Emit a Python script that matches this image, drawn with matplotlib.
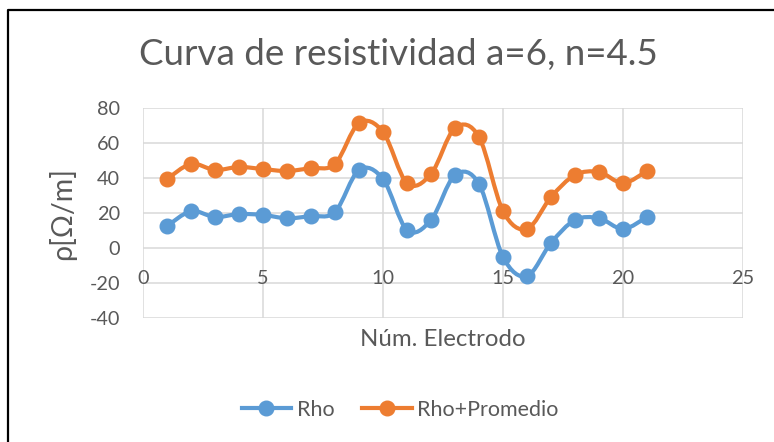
import numpy as np
import matplotlib
matplotlib.use("Agg")
import matplotlib.pyplot as plt
from matplotlib.path import Path
from matplotlib.patches import PathPatch
from matplotlib.lines import Line2D

plt.rcParams['font.family'] = ['Lato', 'DejaVu Sans']
plt.rcParams['axes.unicode_minus'] = False

# Electrode readings
electrodo = [1, 2, 3, 4, 5, 6, 7, 8, 9, 10, 11, 12, 13, 14, 15, 16, 17, 18, 19, 20, 21]
rho = [12.5, 21.0, 17.7, 19.4, 18.9, 17.0, 18.3, 20.6, 44.6, 39.4, 10.3,
       16.0, 41.7, 36.6, -5.1, -16.0, 2.9, 16.0, 17.0, 10.9, 17.7]
rho_prom = [39.4, 48.0, 44.6, 46.3, 45.1, 44.0, 45.7, 48.0, 71.4, 66.3, 37.1,
            42.3, 68.6, 63.4, 21.1, 10.9, 29.1, 41.7, 43.4, 37.1, 44.0]

x_ticks = [0, 5, 10, 15, 20, 25]
y_ticks = [-40, -20, 0, 20, 40, 60, 80]

BLUE = '#5B9BD5'
ORANGE = '#ED7D31'
GRID = '#D9D9D9'
TEXT = '#595959'


def smooth_path(xs, ys):
    """Bezier path through the points, like a spreadsheet 'smoothed line'."""
    pts = np.column_stack([xs, ys]).astype(float)
    n = len(pts)
    verts = [pts[0]]
    codes = [Path.MOVETO]
    for i in range(n - 1):
        p0 = pts[i - 1] if i > 0 else pts[i]
        p1 = pts[i]
        p2 = pts[i + 1]
        p3 = pts[i + 2] if i + 2 < n else pts[i + 1]
        c1 = p1 + (p2 - p0) / 6.0
        c2 = p2 - (p3 - p1) / 6.0
        verts += [c1, c2, p2]
        codes += [Path.CURVE4] * 3
    return Path(verts, codes)


fig = plt.figure(figsize=(7.74, 4.42), dpi=100)
ax = fig.add_axes([143 / 774, 1 - 318 / 442, 600 / 774, 210 / 442])

ax.set_xlim(0, 25)
ax.set_ylim(-40, 80)
ax.set_xticks(x_ticks)
ax.set_yticks(y_ticks)
ax.grid(True, color=GRID, linewidth=1.1)
ax.set_axisbelow(True)
for s in ax.spines.values():
    s.set_visible(False)
ax.tick_params(length=0, labelsize=14.3, colors=TEXT, pad=16.5)
ax.set_xticklabels([])

# x labels sit just under the zero axis
for t in x_ticks:
    ax.text(t, -17.7, str(t), ha='center', va='center', fontsize=14.3, color=TEXT)

for ys, col in [(rho, BLUE), (rho_prom, ORANGE)]:
    ax.add_patch(PathPatch(smooth_path(electrodo, ys), facecolor='none',
                           edgecolor=col, linewidth=3.0, capstyle='round', zorder=3))
    ax.plot(electrodo, ys, 'o', color=col, markersize=10.5, zorder=4)

fig.text(398 / 774, 1 - 55 / 442, 'Curva de resistividad a=6, n=4.5',
         ha='center', va='center', fontsize=26.5, color=TEXT)
fig.text(62 / 774, 1 - 213 / 442, 'ρ[Ω/m]', rotation=90,
         ha='center', va='center', fontsize=20.5, color=TEXT)
fig.text(443 / 774, 1 - 340 / 442, 'Núm. Electrodo',
         ha='center', va='center', fontsize=17.3, color=TEXT)

handles = [Line2D([], [], color=BLUE, lw=3.0, marker='o', markersize=10.5),
           Line2D([], [], color=ORANGE, lw=3.0, marker='o', markersize=10.5)]
fig.legend(handles, ['Rho', 'Rho+Promedio'], loc='center',
           bbox_to_anchor=(400 / 774, 1 - 410 / 442), ncol=2, frameon=False,
           fontsize=15.5, labelcolor=TEXT, handlelength=2.3, columnspacing=1.3,
           handletextpad=0.25)

# chart border (top and left edges visible)
fig.add_artist(Line2D([7.5 / 774, 7.5 / 774, 1.0], [0.0, 1 - 9.5 / 442, 1 - 9.5 / 442],
                      transform=fig.transFigure, color='black', linewidth=1.6))

fig.savefig('out.png', dpi=100)
